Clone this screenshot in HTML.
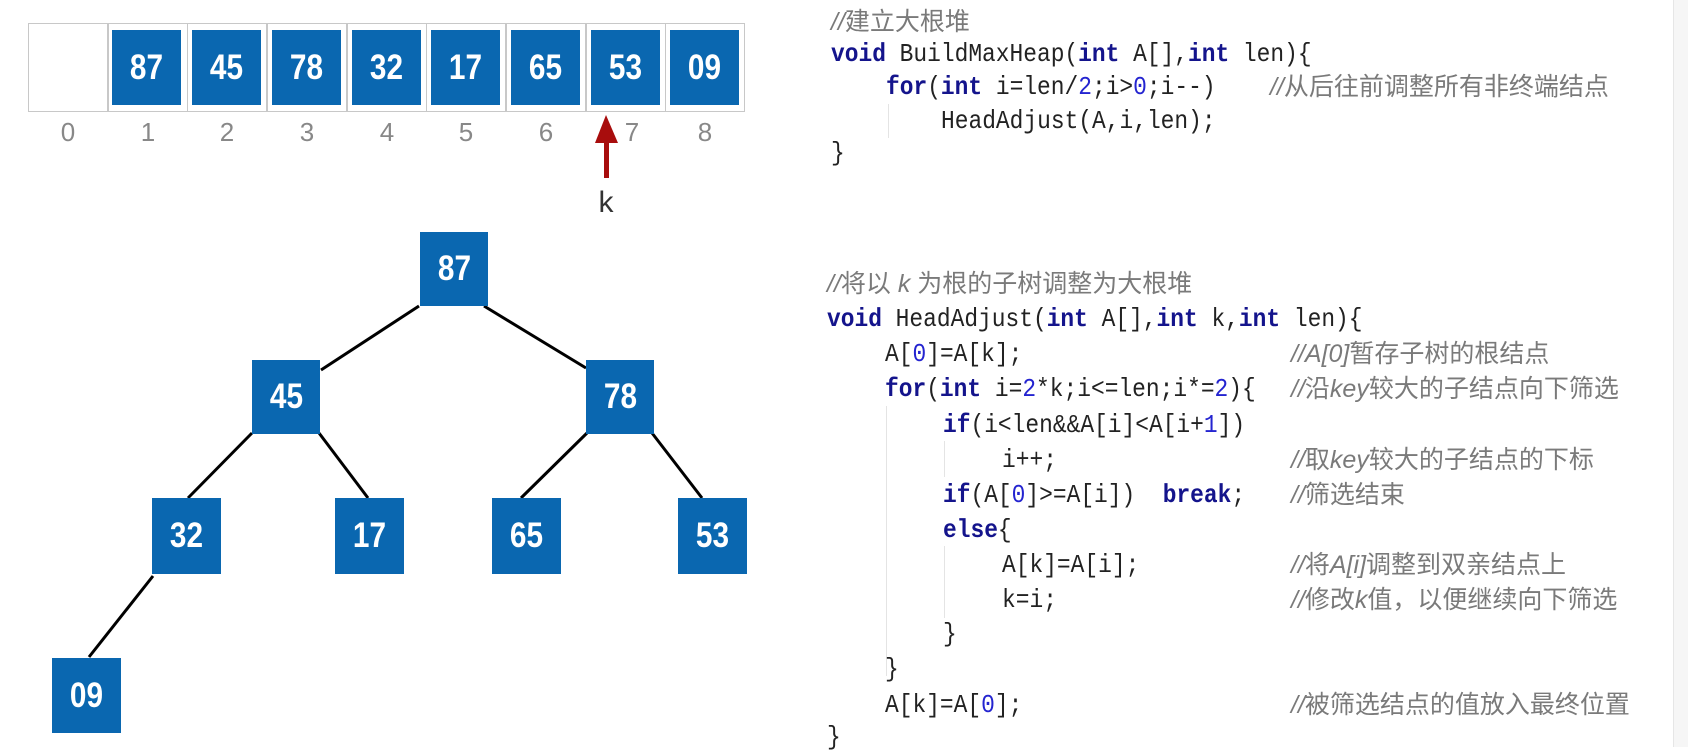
<!DOCTYPE html>
<html><head><meta charset="utf-8"><style>
body{margin:0;width:1688px;height:747px;background:#fff;position:relative;overflow:hidden;font-family:"Liberation Sans",sans-serif}
.cell{position:absolute;top:23px;height:89px;border:1px solid #c8c8c8;box-sizing:border-box;width:80px}
.b{position:absolute;background:#0a67b0;color:#fff;font-weight:bold;font-size:35px;display:flex;align-items:center;justify-content:center}
.b span{display:inline-block;transform:scaleX(0.85)}
.idx{position:absolute;top:117px;width:80px;text-align:center;font-size:26px;color:#888}
.l{position:absolute;white-space:pre;font-family:"Liberation Mono","Noto Sans CJK SC",monospace;font-size:26px;color:#222;line-height:30px;height:30px;transform:scaleX(0.88);transform-origin:0 50%}
.k{color:#14148c;font-weight:bold}
.n{color:#2424d0}
.c{position:absolute;white-space:pre;font-family:"Liberation Sans","Noto Sans CJK SC",sans-serif;font-size:25px;color:#7a7a7a;line-height:30px}
.c i{font-style:italic}
.g{position:absolute;width:1px;background:#e4e4e4}
</style></head><body>
<div style="position:absolute;left:1673px;top:0;width:15px;height:747px;background:#f6f6f6;border-left:1px solid #e6e6e6"></div>
<div class="cell" style="left:28px"></div>
<div class="cell" style="left:108px"></div>
<div class="cell" style="left:187px"></div>
<div class="cell" style="left:267px"></div>
<div class="cell" style="left:347px"></div>
<div class="cell" style="left:426px"></div>
<div class="cell" style="left:506px"></div>
<div class="cell" style="left:586px"></div>
<div class="cell" style="left:665px"></div>
<div class="b" style="left:112px;top:30px;width:69px;height:75px"><span>87</span></div>
<div class="b" style="left:192px;top:30px;width:69px;height:75px"><span>45</span></div>
<div class="b" style="left:272px;top:30px;width:69px;height:75px"><span>78</span></div>
<div class="b" style="left:352px;top:30px;width:69px;height:75px"><span>32</span></div>
<div class="b" style="left:431px;top:30px;width:69px;height:75px"><span>17</span></div>
<div class="b" style="left:511px;top:30px;width:69px;height:75px"><span>65</span></div>
<div class="b" style="left:591px;top:30px;width:69px;height:75px"><span>53</span></div>
<div class="b" style="left:670px;top:30px;width:69px;height:75px"><span>09</span></div>
<div class="idx" style="left:28px">0</div><div class="idx" style="left:108px">1</div><div class="idx" style="left:187px">2</div><div class="idx" style="left:267px">3</div><div class="idx" style="left:347px">4</div><div class="idx" style="left:426px">5</div><div class="idx" style="left:506px">6</div><div class="idx" style="left:592px">7</div><div class="idx" style="left:665px">8</div>
<svg style="position:absolute;left:0;top:0" width="844" height="747">
<polygon points="606,115 595,143 618,143" fill="#a80d0d"/>
<rect x="604" y="140" width="5" height="38" fill="#a80d0d"/>
<g stroke="#000" stroke-width="3">
<line x1="419" y1="306" x2="321" y2="370"/>
<line x1="484" y1="306" x2="586" y2="368"/>
<line x1="252" y1="433" x2="188" y2="498"/>
<line x1="319" y1="433" x2="368" y2="498"/>
<line x1="587" y1="433" x2="521" y2="498"/>
<line x1="652" y1="433" x2="702" y2="498"/>
<line x1="153" y1="576" x2="89" y2="657"/>
</g>
</svg>
<div style="position:absolute;left:592px;top:186px;width:28px;text-align:center;font-size:30px;color:#333">k</div>
<div class="b" style="left:420px;top:232px;width:68px;height:74px"><span>87</span></div>
<div class="b" style="left:252px;top:360px;width:68px;height:74px"><span>45</span></div>
<div class="b" style="left:586px;top:360px;width:68px;height:74px"><span>78</span></div>
<div class="b" style="left:152px;top:498px;width:69px;height:76px"><span>32</span></div>
<div class="b" style="left:335px;top:498px;width:69px;height:76px"><span>17</span></div>
<div class="b" style="left:492px;top:498px;width:69px;height:76px"><span>65</span></div>
<div class="b" style="left:678px;top:498px;width:69px;height:76px"><span>53</span></div>
<div class="b" style="left:52px;top:658px;width:69px;height:75px"><span>09</span></div>
<div class="g" style="left:888px;top:104px;height:34px"></div>
<div class="g" style="left:886px;top:406px;height:270px"></div>
<div class="g" style="left:944px;top:441px;height:36px"></div>
<div class="g" style="left:944px;top:546px;height:72px"></div>
<div class="c" style="left:831px;top:7px"><i>//</i>建立大根堆</div>
<div class="l" style="left:831px;top:39px"><span class="k">void</span> BuildMaxHeap(<span class="k">int</span> A[],<span class="k">int</span> len){</div>
<div class="l" style="left:886px;top:72px"><span class="k">for</span>(<span class="k">int</span> i=len/<span class="n">2</span>;i&gt;<span class="n">0</span>;i--)</div>
<div class="c" style="left:1270px;top:72px"><i>//</i>从后往前调整所有非终端结点</div>
<div class="l" style="left:941px;top:106px">HeadAdjust(A,i,len);</div>
<div class="l" style="left:831px;top:138px">}</div>
<div class="c" style="left:827px;top:269px"><i>//</i>将以 <i>k</i> 为根的子树调整为大根堆</div>
<div class="l" style="left:827px;top:304px"><span class="k">void</span> HeadAdjust(<span class="k">int</span> A[],<span class="k">int</span> k,<span class="k">int</span> len){</div>
<div class="l" style="left:885px;top:339px">A[<span class="n">0</span>]=A[k];</div>
<div class="c" style="left:1291px;top:339px"><i>//A[0]</i>暂存子树的根结点</div>
<div class="l" style="left:885px;top:374px"><span class="k">for</span>(<span class="k">int</span> i=<span class="n">2</span>*k;i&lt;=len;i*=<span class="n">2</span>){</div>
<div class="c" style="left:1291px;top:374px"><i>//</i>沿<i>key</i>较大的子结点向下筛选</div>
<div class="l" style="left:943px;top:410px"><span class="k">if</span>(i&lt;len&amp;&amp;A[i]&lt;A[i+<span class="n">1</span>])</div>
<div class="l" style="left:1002px;top:445px">i++;</div>
<div class="c" style="left:1291px;top:445px"><i>//</i>取<i>key</i>较大的子结点的下标</div>
<div class="l" style="left:943px;top:480px"><span class="k">if</span>(A[<span class="n">0</span>]&gt;=A[i])  <span class="k">break</span>;</div>
<div class="c" style="left:1291px;top:480px"><i>//</i>筛选结束</div>
<div class="l" style="left:943px;top:515px"><span class="k">else</span>{</div>
<div class="l" style="left:1002px;top:550px">A[k]=A[i];</div>
<div class="c" style="left:1291px;top:550px"><i>//</i>将<i>A[i]</i>调整到双亲结点上</div>
<div class="l" style="left:1002px;top:585px">k=i;</div>
<div class="c" style="left:1291px;top:585px"><i>//</i>修改<i>k</i>值，以便继续向下筛选</div>
<div class="l" style="left:943px;top:619px">}</div>
<div class="l" style="left:885px;top:654px">}</div>
<div class="l" style="left:885px;top:690px">A[k]=A[<span class="n">0</span>];</div>
<div class="c" style="left:1291px;top:690px"><i>//</i>被筛选结点的值放入最终位置</div>
<div class="l" style="left:827px;top:722px">}</div>
</body></html>
